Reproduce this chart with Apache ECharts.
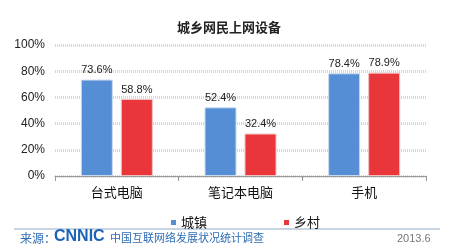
<!DOCTYPE html>
<html><head><meta charset="utf-8">
<script src="https://cdn.jsdelivr.net/npm/echarts@6/dist/echarts.min.js"></script>
<style>html,body{margin:0;padding:0;background:#fff}#c{width:458px;height:252px}</style>
</head><body><div id="c"></div>
<script>
const categories = ['台式电脑', '笔记本电脑', '手机'];
const urban = [73.6, 52.4, 78.4];
const rural = [58.8, 32.4, 78.9];
const yTicks = [0, 20, 40, 60, 80, 100];
const seriesNames = ['城镇', '乡村'];

const chart = echarts.init(document.getElementById('c'));
const font = '"Noto Sans CJK SC", sans-serif';
chart.setOption({
  animation: false,
  backgroundColor: '#fff',
  title: {
    text: '城乡网民上网设备', left: 'center', top: 16,
    textStyle: { fontSize: 13, fontWeight: 'bold', color: '#222', fontFamily: font }
  },
  legend: {
    data: seriesNames.map(n => ({ name: n, icon: 'rect', itemStyle: { borderColor: 'transparent', borderWidth: 0 } })),
    top: 211, left: 166, itemGap: 77,
    itemWidth: 5, itemHeight: 5,
    textStyle: { fontSize: 13, color: '#111', fontFamily: font }
  },
  grid: { left: 55, right: 32, top: 45, bottom: 76 },
  xAxis: {
    type: 'category', data: categories,
    axisLine: { lineStyle: { color: '#999' } },
    axisTick: { show: true, length: 5, lineStyle: { color: '#999' } },
    axisLabel: { fontSize: 13, color: '#111', margin: 10, fontFamily: font }
  },
  yAxis: {
    type: 'value', min: yTicks[0], max: yTicks[yTicks.length - 1], interval: 20,
    axisLine: { show: false }, axisTick: { show: false },
    axisLabel: { formatter: '{value}%', fontSize: 12, color: '#222', margin: 10, fontFamily: 'Liberation Sans, Arial, sans-serif' },
    splitLine: { lineStyle: { color: '#d6d6d6', width: 3, type: [1, 1] } }
  },
  series: [
    {
      name: seriesNames[0], type: 'bar', data: urban, barWidth: 32, barGap: '25%',
      itemStyle: { color: '#558ED5', borderColor: '#c9daf0', borderWidth: 1 },
      label: { show: true, position: 'top', distance: 4, formatter: '{c}%', fontSize: 11, color: '#222', fontFamily: 'Liberation Sans, Arial, sans-serif' }
    },
    {
      name: seriesNames[1], type: 'bar', data: rural, barWidth: 32,
      itemStyle: { color: '#E8363A', borderColor: '#f3c0c0', borderWidth: 1 },
      label: { show: true, position: 'top', distance: 4, formatter: '{c}%', fontSize: 11, color: '#222', fontFamily: 'Liberation Sans, Arial, sans-serif' }
    }
  ],
  graphic: [
    { type: 'line', shape: { x1: 14, y1: 229, x2: 440, y2: 229 }, style: { stroke: '#8fa9c4', lineWidth: 1 } },
    { type: 'text', left: 20, top: 232, style: { text: '来源：', fill: '#2f6db5', fontSize: 12, fontFamily: font } },
    { type: 'text', left: 54, top: 229, style: { text: 'CNNIC', fill: '#1d63b8', fontSize: 16, fontWeight: 'bold', fontFamily: 'Liberation Sans, Arial, sans-serif' } },
    { type: 'text', left: 110, top: 232, style: { text: '中国互联网络发展状况统计调查', fill: '#2f6db5', fontSize: 11, fontFamily: font } },
    { type: 'text', left: 397, top: 233, style: { text: '2013.6', fill: '#777', fontSize: 11, fontFamily: 'Liberation Sans, Arial, sans-serif' } }
  ]
});
</script>
</body></html>
